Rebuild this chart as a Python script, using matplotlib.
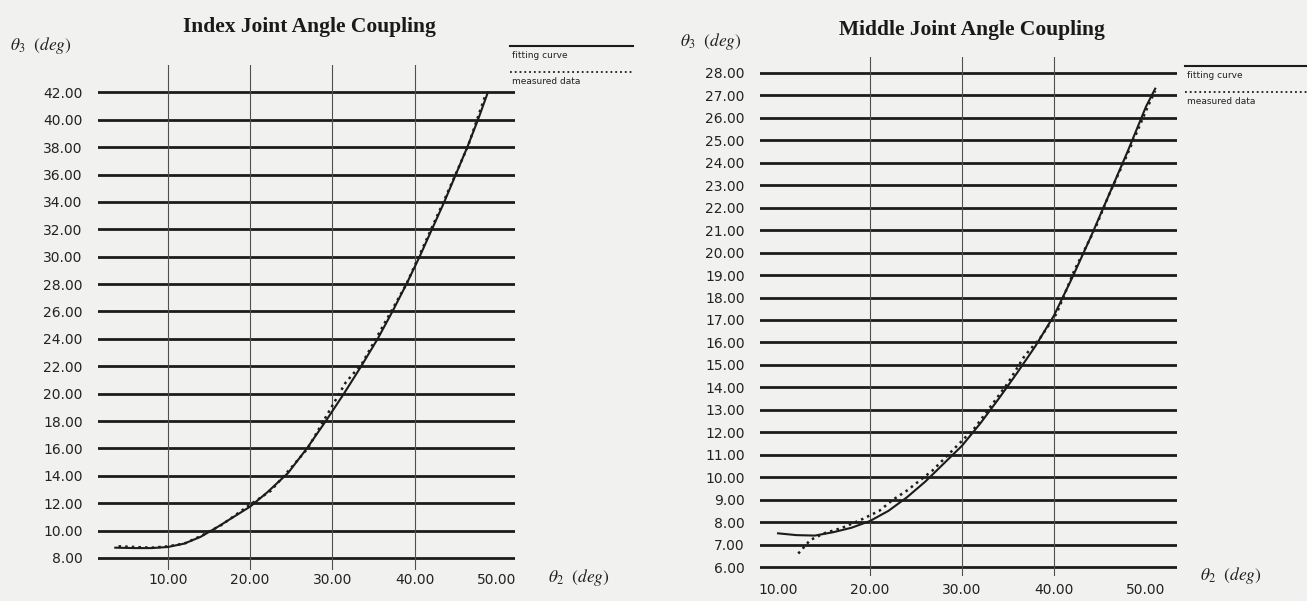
import matplotlib
matplotlib.use("Agg")
import matplotlib.pyplot as plt
from matplotlib.lines import Line2D

plt.rcParams['mathtext.fontset'] = 'stix'

# ---------------- data: Index joint ----------------
idx_fit_x = [3.6, 6, 8, 10, 12, 14, 16, 18, 20, 22, 24.6, 26.9, 29.2, 31.4, 33.5,
             35.5, 37.3, 39.0, 40.6, 42.1, 43.6, 45.0, 46.4, 47.7, 48.9]
idx_fit_y = [8.75, 8.72, 8.72, 8.8, 9.05, 9.55, 10.25, 11.0, 11.75, 12.75, 14.2, 16, 18,
             20, 22, 24, 26, 28, 30, 32, 34, 36, 38, 40, 42]
idx_meas_x = [4.0, 6.0, 8.0, 10.0, 12.0, 14.0, 16.5, 20.0, 21.5, 22.5, 25.0, 27.0,
              31.6, 33.6, 39.0, 43.5, 46.5, 48.6]
idx_meas_y = [8.85, 8.8, 8.75, 8.85, 9.05, 9.6, 10.4, 11.9, 12.5, 12.9, 14.6, 16.0,
              20.8, 22.2, 28.0, 34.0, 38.1, 41.8]
idx_yticks = [8, 10, 12, 14, 16, 18, 20, 22, 24, 26, 28, 30, 32, 34, 36, 38, 40, 42]
idx_xticks = [10, 20, 30, 40, 50]
idx_vgrid = [10, 20, 30, 40]

# ---------------- data: Middle joint ----------------
mid_fit_x = [10, 12, 14, 16, 18, 20, 22, 24, 26, 28, 30, 32, 34, 36, 38, 40, 42, 44,
             46, 48, 50, 51]
mid_fit_y = [7.5, 7.42, 7.4, 7.55, 7.75, 8.05, 8.5, 9.1, 9.8, 10.6, 11.4, 12.4, 13.5,
             14.65, 15.85, 17.2, 18.9, 20.7, 22.6, 24.5, 26.5, 27.3]
mid_meas_x = [12.2, 13.5, 15.0, 17.0, 19.0, 21.0, 22.5, 24.0, 26.8, 31.4, 35.0, 36.8,
              38.5, 40.3, 42.2, 44.5, 46.0, 48.0, 50.3, 51.0]
mid_meas_y = [6.6, 7.2, 7.5, 7.75, 8.1, 8.5, 9.0, 9.4, 10.3, 12.2, 14.2, 15.4,
              16.2, 17.3, 19.2, 21.1, 22.6, 24.4, 26.6, 27.2]
mid_yticks = list(range(6, 29))
mid_xticks = [10, 20, 30, 40, 50]
mid_vgrid = [20, 30, 40]

W, H = 1307, 601
BG = '#f1f1ef'
INK = '#1c1c1c'
fig = plt.figure(figsize=(W / 100, H / 100), dpi=100, facecolor=BG)


def px_axes(l, r, t, b):
    return fig.add_axes([l / W, 1 - b / H, (r - l) / W, (b - t) / H])


def style_axes(ax, xlim, ylim, yticks, xticks, vgrid, ypad, xpad):
    ax.set_facecolor('none')
    ax.set_xlim(*xlim)
    ax.set_ylim(*ylim)
    for s in ax.spines.values():
        s.set_visible(False)
    for v in yticks:
        ax.axhline(v, color=INK, lw=2.0, zorder=1)
    for v in vgrid:
        ax.axvline(v, color='#505050', lw=0.8, zorder=1)
    ax.set_yticks(yticks)
    ax.set_yticklabels(['%.2f' % v for v in yticks])
    ax.set_xticks(xticks)
    ax.set_xticklabels(['%.2f' % v for v in xticks])
    ax.tick_params(axis='y', length=0, pad=ypad, labelsize=10, labelcolor='#222222')
    ax.tick_params(axis='x', length=0, pad=xpad, labelsize=10, labelcolor='#222222')
    for lab in ax.get_xticklabels() + ax.get_yticklabels():
        lab.set_fontfamily('DejaVu Sans')


# ---------------- left panel ----------------
ax1 = px_axes(98, 515, 65, 570)
style_axes(ax1, (1.5, 52.2), (7.12, 44.0), idx_yticks, idx_xticks, idx_vgrid, 11, 2)
ax1.plot(idx_fit_x, idx_fit_y, color=INK, lw=1.5, zorder=3)
ax1.plot(idx_meas_x, idx_meas_y, color=INK, lw=1.8, ls=':', zorder=4)

# ---------------- right panel ----------------
ax2 = px_axes(760, 1177, 57, 576)
style_axes(ax2, (8.04, 53.37), (5.6, 28.71), mid_yticks, mid_xticks, mid_vgrid, 11, 5)
ax2.plot(mid_fit_x, mid_fit_y, color=INK, lw=1.5, zorder=3)
ax2.plot(mid_meas_x, mid_meas_y, color=INK, lw=1.8, ls=':', zorder=4)

# ---------------- titles and axis labels ----------------
def ftext(x, y, s, **kw):
    fig.text(x / W, 1 - y / H, s, **kw)

ftext(309, 27, 'Index Joint Angle Coupling', ha='center', va='center',
      fontsize=15.5, fontweight='bold', family='Liberation Serif', color='#1a1a1a')
ftext(972, 30, 'Middle Joint Angle Coupling', ha='center', va='center',
      fontsize=15.5, fontweight='bold', family='Liberation Serif', color='#1a1a1a')

ylab = r'$\theta_3\ \ (\mathit{deg})$'
xlab = r'$\theta_2\ \ (\mathit{deg})$'
ftext(10, 45, ylab, ha='left', va='center', fontsize=12.5, color='#222222')
ftext(680, 42, ylab, ha='left', va='center', fontsize=12.5, color='#222222')
ftext(548, 578, xlab, ha='left', va='center', fontsize=12.5, color='#222222')
ftext(1200, 576, xlab, ha='left', va='center', fontsize=12.5, color='#222222')

# ---------------- legends ----------------
def legend(x0, x1, y_solid, y_dot):
    fig.add_artist(Line2D([x0 / W, x1 / W], [1 - y_solid / H] * 2, color=INK, lw=1.5,
                          transform=fig.transFigure))
    fig.add_artist(Line2D([x0 / W, x1 / W], [1 - y_dot / H] * 2, color=INK, lw=1.3,
                          ls=':', transform=fig.transFigure))
    ftext(x0 + 2, y_solid + 10, 'fitting curve', ha='left', va='center',
          fontsize=6.5, family='DejaVu Sans', color='#222222')
    ftext(x0 + 2, y_dot + 10, 'measured data', ha='left', va='center',
          fontsize=6.5, family='DejaVu Sans', color='#222222')

legend(510, 633, 46, 72)
legend(1185, 1307, 66, 92)

fig.savefig('out.png', dpi=100, facecolor=BG)
